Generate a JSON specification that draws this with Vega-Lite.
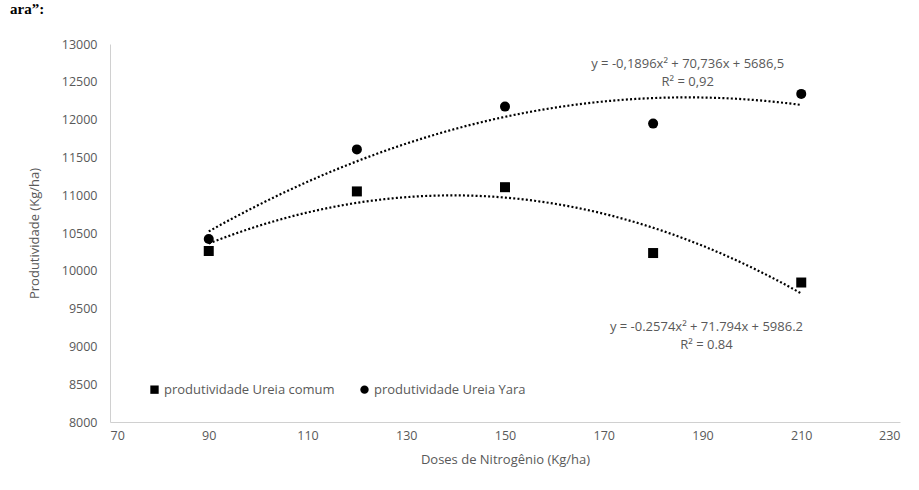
{
  "$schema": "https://vega.github.io/schema/vega-lite/v6.json",
  "width": 790,
  "height": 378,
  "autosize": {"type": "none"},
  "padding": {"left": 110, "top": 44, "right": 19, "bottom": 68},
  "background": "white",
  "title": {"text": "ara\u201d:", "anchor": "start", "frame": "group", "dx": -100, "offset": 0, "dy": -9, "font": "Liberation Serif", "fontSize": 15, "fontWeight": "bold", "color": "black", "baseline": "alphabetic"},
  "config": {
    "view": {"stroke": null},
    "font": "Open Sans",
    "axis": {"grid": false, "ticks": false, "domainColor": "#d0d0d0", "labelColor": "#595959", "titleColor": "#595959", "labelFont": "Open Sans", "titleFont": "Open Sans", "labelFontSize": 12.5, "titleFontSize": 13, "titleFontWeight": "normal", "labelOverlap": false},
    "axisY": {"labelOverlap": false, "labelBound": false},
    "axisQuantitative": {"labelOverlap": false}
  },
  "data": {
    "values": [
      {"dose": 90, "serie": "produtividade Ureia comum", "prod": 10262},
      {"dose": 120, "serie": "produtividade Ureia comum", "prod": 11050},
      {"dose": 150, "serie": "produtividade Ureia comum", "prod": 11106},
      {"dose": 180, "serie": "produtividade Ureia comum", "prod": 10235},
      {"dose": 210, "serie": "produtividade Ureia comum", "prod": 9845},
      {"dose": 90, "serie": "produtividade  Ureia Yara", "prod": 10420},
      {"dose": 120, "serie": "produtividade  Ureia Yara", "prod": 11606},
      {"dose": 150, "serie": "produtividade  Ureia Yara", "prod": 12172},
      {"dose": 180, "serie": "produtividade  Ureia Yara", "prod": 11947},
      {"dose": 210, "serie": "produtividade  Ureia Yara", "prod": 12340}
    ]
  },
  "layer": [
    {
      "transform": [{"regression": "prod", "on": "dose", "groupby": ["serie"], "method": "poly", "order": 2}],
      "mark": {"type": "line", "color": "black", "strokeWidth": 2.2, "strokeDash": [2, 2.2], "interpolate": "monotone"},
      "encoding": {
        "x": {"field": "dose", "type": "quantitative", "title": "Doses de Nitrogênio (Kg/ha)",
              "scale": {"domain": [70, 230], "nice": false, "zero": false},
              "axis": {"values": [70, 90, 110, 130, 150, 170, 190, 210, 230], "labelOverlap": false, "labelPadding": 7, "titlePadding": 12}},
        "y": {"field": "prod", "type": "quantitative", "title": "Produtividade (Kg/ha)",
              "scale": {"domain": [8000, 13000], "nice": false, "zero": false},
              "axis": {"values": [8000, 8500, 9000, 9500, 10000, 10500, 11000, 11500, 12000, 12500, 13000], "tickCount": 11, "format": ".0f", "labelOverlap": false, "labelPadding": 13, "titlePadding": 20}},
        "detail": {"field": "serie"}
      }
    },
    {
      "mark": {"type": "point", "filled": true, "opacity": 1, "color": "black", "size": 100},
      "encoding": {
        "x": {"field": "dose", "type": "quantitative"},
        "y": {"field": "prod", "type": "quantitative"},
        "shape": {"field": "serie", "type": "nominal",
                  "scale": {"domain": ["produtividade Ureia comum", "produtividade  Ureia Yara"], "range": ["square", "circle"]},
                  "legend": {"title": null, "orient": "none", "legendX": 38, "legendY": 339, "direction": "horizontal", "symbolFillColor": "black", "symbolStrokeColor": "black", "symbolSize": 70, "labelFontSize": 13, "labelColor": "#595959", "labelFont": "Open Sans", "labelLimit": 400, "columnPadding": 22, "labelOffset": 3}}
      }
    },
    {
      "data": {"values": [{"eq": "yara"}]},
      "mark": {"type": "text", "align": "center", "baseline": "middle", "font": "Open Sans", "fontSize": 13, "fontWeight": 400, "color": "#595959", "lineHeight": 18, "text": ["y = -0,1896x\u00b2 + 70,736x + 5686,5", "R\u00b2 = 0,92"]},
      "encoding": {"x": {"datum": 187}, "y": {"datum": 12735}}
    },
    {
      "data": {"values": [{"eq": "comum"}]},
      "mark": {"type": "text", "align": "center", "baseline": "middle", "font": "Open Sans", "fontSize": 13, "fontWeight": 400, "color": "#595959", "lineHeight": 18, "text": ["y = -0.2574x\u00b2 + 71.794x + 5986.2", "R\u00b2 = 0.84"]},
      "encoding": {"x": {"datum": 190.8}, "y": {"datum": 9263}}
    }
  ]
}
